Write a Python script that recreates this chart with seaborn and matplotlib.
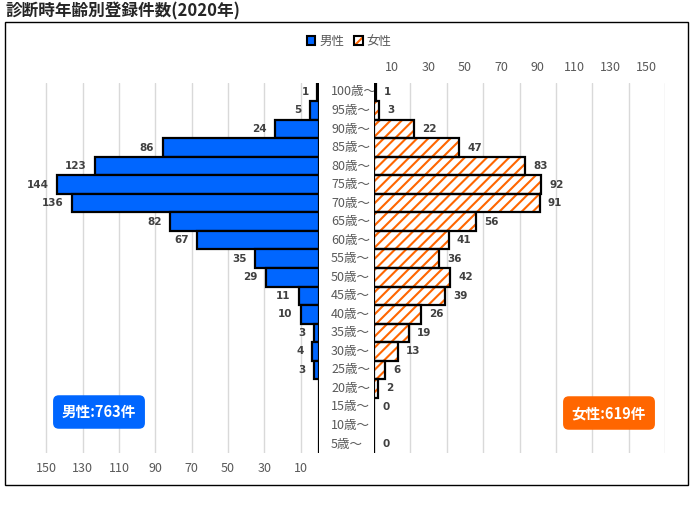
import numpy as np
import pandas as pd
import matplotlib
matplotlib.use("Agg")
import matplotlib.pyplot as plt
import matplotlib.transforms as mtrans
from matplotlib.patches import Patch, Rectangle
from matplotlib.legend_handler import HandlerTuple
import seaborn as sns

# ── データ ──
ages = ["100歳～", "95歳～", "90歳～", "85歳～", "80歳～", "75歳～", "70歳～",
        "65歳～", "60歳～", "55歳～", "50歳～", "45歳～", "40歳～", "35歳～",
        "30歳～", "25歳～", "20歳～", "15歳～", "10歳～", "5歳～"]
male = [1, 5, 24, 86, 123, 144, 136, 82, 67, 35, 29, 11, 10, 3, 4, 3,
        np.nan, np.nan, np.nan, np.nan]
female = [1, 3, 22, 47, 83, 92, 91, 56, 41, 36, 42, 39, 26, 19, 13, 6,
          2, 0, np.nan, 0]
male_total = "男性:763件"
female_total = "女性:619件"
title = "診断時年齢別登録件数(2020年)"

blue = "#0066FF"
orange = "#FF6600"
grid_c = "#D9D9D9"
tick_c = "#595959"
lab_c = "#404040"

df = pd.DataFrame({"age": ages, "male": np.nan_to_num(male), "female": np.nan_to_num(female)})

sns.set_style("white")
plt.rcParams["font.family"] = ["Noto Sans CJK JP", "DejaVu Sans"]
plt.rcParams["hatch.linewidth"] = 1.5

W, H = 695, 507
fig = plt.figure(figsize=(W / 100, H / 100), dpi=100)


def px_box(x0, x1, y0, y1):
    return [x0 / W, 1 - y1 / H, (x1 - x0) / W, (y1 - y0) / H]


ax_l = fig.add_axes(px_box(28, 319, 82.7, 453.3))
ax_r = fig.add_axes(px_box(374, 665, 82.7, 453.3))

# 男性
sns.barplot(data=df, x="male", y="age", orient="h", color=blue, width=1.0,
            edgecolor="black", linewidth=1.6, saturation=1, ax=ax_l, zorder=3)
ax_l.set_xlim(160, 0)

# 女性 (斜線 + 黒枠)
sns.barplot(data=df, x="female", y="age", orient="h", color="white", width=1.0,
            edgecolor=orange, linewidth=0, hatch="///", saturation=1, ax=ax_r, zorder=3)
sns.barplot(data=df, x="female", y="age", orient="h", color="white", width=1.0,
            fill=False, edgecolor="black", linewidth=1.6, ax=ax_r, zorder=4)
ax_r.set_xlim(0, 160)

for ax in (ax_l, ax_r):
    for s in ax.spines.values():
        s.set_visible(False)
    ax.set_ylabel("")
    ax.set_xlabel("")
    ax.set_yticks([])
    ax.set_ylim(len(ages) - 0.5, -0.5)
    ax.grid(False)

# 左: 目盛線とラベル
lticks = [0] + list(range(10, 151, 20))
ax_l.set_xticks(lticks)
ax_l.set_xticklabels([""] + [str(t) for t in lticks[1:]])
ax_l.tick_params(axis="x", length=0, labelsize=9, labelcolor=tick_c, pad=6)
for t in lticks:
    ax_l.axvline(t, color=grid_c, lw=1, zorder=1)

# 右: 目盛線は 20 刻み, ラベルは 10,30,...
for t in range(0, 161, 20):
    ax_r.axvline(t, color=grid_c, lw=1, zorder=1)
rticks = list(range(10, 151, 20))
ax_r.set_xticks(rticks)
ax_r.set_xticklabels([str(t) for t in rticks])
ax_r.xaxis.tick_top()
ax_r.tick_params(axis="x", length=0, labelsize=9, labelcolor=tick_c, pad=6,
                 top=True, bottom=False, labeltop=True, labelbottom=False)

# 数値ラベル
for i, v in enumerate(male):
    if not np.isnan(v):
        ax_l.annotate(f"{int(v)}", (v, i), xytext=(-6, 0), textcoords="offset points",
                      ha="right", va="center", fontsize=7.5, fontweight="bold",
                      color=lab_c, family=["DejaVu Sans"])
for i, v in enumerate(female):
    if not np.isnan(v):
        ax_r.annotate(f"{int(v)}", (v, i), xytext=(6, 0), textcoords="offset points",
                      ha="left", va="center", fontsize=7.5, fontweight="bold",
                      color=lab_c, family=["DejaVu Sans"])

# 年齢ラベル
age_tr = mtrans.blended_transform_factory(fig.transFigure, ax_r.transData)
for i, a in enumerate(ages):
    ax_r.text(331 / W, i, a, transform=age_tr, ha="left", va="center",
              fontsize=9, color=tick_c, zorder=0)

# 凡例
h_male = Patch(facecolor=blue, edgecolor="black", linewidth=1.5)
h_fem_hatch = Patch(facecolor="white", edgecolor=orange, linewidth=0, hatch="///")
h_fem_edge = Patch(facecolor="none", edgecolor="black", linewidth=1.5)
leg = fig.legend([h_male, (h_fem_hatch, h_fem_edge)], ["男性", "女性"],
                 handler_map={tuple: HandlerTuple(ndivide=1)},
                 loc="center", bbox_to_anchor=(349 / W, 1 - 41 / H), ncol=2,
                 frameon=False, fontsize=9, handlelength=0.7, handleheight=0.7,
                 handletextpad=0.3, columnspacing=0.8)
for t in leg.get_texts():
    t.set_color(tick_c)

# 合計ボックス
fig.text(99 / W, 1 - 412 / H, male_total, ha="center", va="center", color="white",
         fontsize=10.5, fontweight="bold",
         bbox=dict(boxstyle="round,pad=0.6,rounding_size=0.4", fc=blue, ec="none"))
fig.text(609 / W, 1 - 413 / H, female_total, ha="center", va="center", color="white",
         fontsize=10.5, fontweight="bold",
         bbox=dict(boxstyle="round,pad=0.6,rounding_size=0.4", fc=orange, ec="none"))

# 外枠とタイトル
fig.patches.append(Rectangle((5 / W, 1 - 485 / H), 683 / W, 463 / H, transform=fig.transFigure,
                             fill=False, edgecolor="black", linewidth=1))
fig.text(5 / W, 1 - 11 / H, title, ha="left", va="center", fontsize=12, fontweight="bold")

fig.savefig("out.png", dpi=100)
